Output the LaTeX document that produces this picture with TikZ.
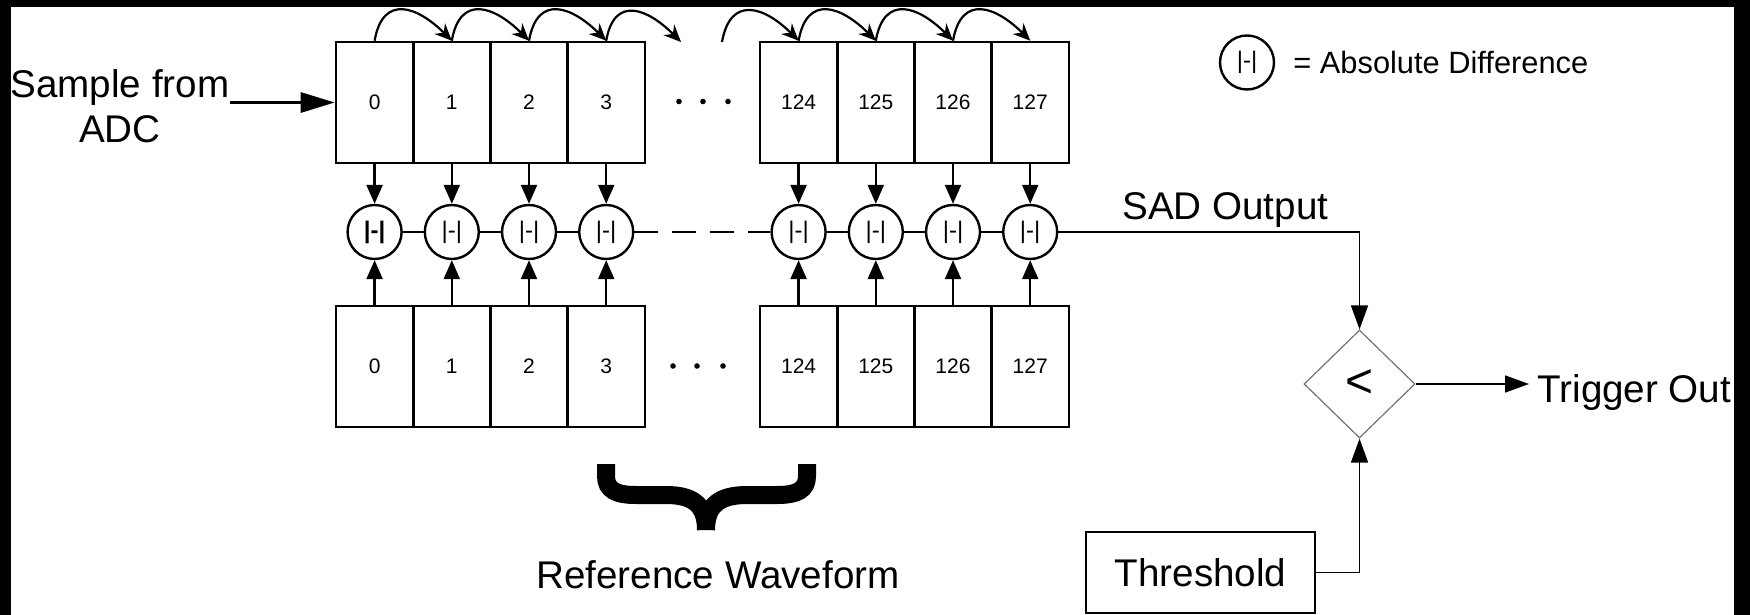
\documentclass[tikz,border=0pt]{standalone}
\usepackage{fontspec}
\setmainfont{Liberation Sans}
\usetikzlibrary{arrows.meta,shapes.geometric}
\begin{document}
\begin{tikzpicture}[x=0.5pt,y=-0.5pt,
  cell/.style={draw,line width=1.3pt,minimum width=38.6pt,minimum height=60.5pt,inner sep=0pt,font=\fontsize{10.5}{12}\selectfont},
  ad/.style={draw,circle,line width=1.2pt,minimum size=27pt,inner sep=0pt,font=\fontsize{12}{14}\selectfont},
  big/.style={font=\fontsize{19.3}{22.5}\selectfont,inner sep=0pt},
  arr/.style={line width=1.2pt,-{Triangle[length=9.5pt,width=8pt]}},
  arrthin/.style={line width=0.75pt,-{Triangle[length=12pt,width=8.5pt]}},
  bigarr/.style={line width=1.5pt,-{Triangle[length=17pt,width=10pt]}},
  hop/.style={line width=1.1pt,-{Stealth[length=8.5pt,width=7.5pt]},looseness=1.6},
  link/.style={line width=0.75pt},
]
\useasboundingbox (0,0) rectangle (1750,615);
\fill[black] (0,0) rectangle (1750,7);
\fill[black] (0,0) rectangle (11,615);
\fill[black] (1734,0) rectangle (1750,615);

% registers, comparators
\foreach \n/\x in {0/374.6,1/451.8,2/529,3/606.2,124/798.6,125/875.8,126/953,127/1030.2}{
  \node[cell] (t\n) at (\x,102.5) {\n};
  \node[cell] (b\n) at (\x,366.5) {\n};
  \node[ad] (c\n) at (\x,232) {\ifnum\n=0 \bfseries\fi |-|};
  \draw[arr] (t\n) -- (c\n);
  \draw[arr] (b\n) -- (c\n);
}

% links between comparators
\draw[link] (c0) -- (c1);
\draw[link] (c1) -- (c2);
\draw[link] (c2) -- (c3);
\draw[link,dash pattern=on 12pt off 7pt] (c3) -- (c124);
\draw[link] (c124) -- (c125);
\draw[link] (c125) -- (c126);
\draw[link] (c126) -- (c127);

% shift hops
\coordinate (gapR) at (681,42);
\coordinate (gapL) at (722,42);
\draw[hop] (t0.north) to[out=80,in=135] (t1.north);
\draw[hop] (t1.north) to[out=80,in=135] (t2.north);
\draw[hop] (t2.north) to[out=80,in=135] (t3.north);
\draw[hop] (t3.north) to[out=80,in=135] (gapR);
\draw[hop] (gapL) to[out=80,in=135] (t124.north);
\draw[hop] (t124.north) to[out=80,in=135] (t125.north);
\draw[hop] (t125.north) to[out=80,in=135] (t126.north);
\draw[hop] (t126.north) to[out=80,in=135] (t127.north);

% dots
\foreach \x in {679,703,728}{\fill (\x,101.5) circle[radius=1.4pt];}
\foreach \x in {673,697,723}{\fill (\x,366) circle[radius=1.4pt];}

% input
\node[big,align=center,anchor=north] (adc) at (120,69) {Sample from\\ADC};
\draw[bigarr] (adc.east |- t0.west) -- (t0.west);

% comparator and threshold
\node[draw=black!55,line width=0.6pt,diamond,aspect=1,minimum width=55.5pt,minimum height=54pt,inner sep=0pt,font=\fontsize{24}{26}\selectfont] (cmp) at (1359.5,384) {<};
\node[big,anchor=base west] (sad) at (1122,219) {SAD Output};
\draw[arrthin] (c127.east) -| (cmp.north);
\node[draw,line width=1pt,minimum width=114.5pt,minimum height=40.5pt,inner sep=0pt,font=\fontsize{19.3}{22.5}\selectfont] (thr) at (1200.5,572.5) {Threshold};
\draw[arrthin] (thr.east) -| (cmp.south);
\node[big,anchor=base west,inner xsep=4pt] (trig) at (1529,402) {Trigger Out};
\draw[arrthin] (cmp.east) -- (cmp.east -| trig.west);

% legend
\node[ad] (leg) at (1247,62.5) {|-|};
\node[anchor=base west,inner sep=0pt,font=\fontsize{15.4}{17}\selectfont] (legt) at (1293,74) {= Absolute Difference};

% brace and caption
\draw[line width=9pt] (606,464) -- (606,476) .. controls (606,490) and (616,495) .. (636,495) -- (666,495) .. controls (692,495) and (706,504) .. (706,530);
\draw[line width=9pt] (807,464) -- (807,476) .. controls (807,490) and (797,495) .. (777,495) -- (747,495) .. controls (721,495) and (706,504) .. (706,530);
\node[big,anchor=base] (refw) at (718,588) {Reference Waveform};
\end{tikzpicture}
\end{document}
